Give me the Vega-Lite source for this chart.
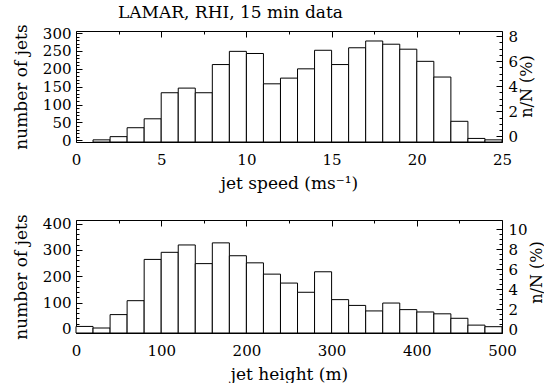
{
  "$schema": "https://vega.github.io/schema/vega-lite/v6.json",
  "background": "white",
  "padding": {"left": 11, "top": 3, "right": 0, "bottom": 0},
  "spacing": 21,
  "config": {
    "view": {"stroke": "black", "strokeWidth": 1},
    "axis": {
      "domain": false, "grid": false, "tickColor": "black", "tickWidth": 1,
      "labelColor": "black", "titleColor": "black",
      "labelFont": "DejaVu Serif", "titleFont": "DejaVu Serif",
      "labelFontSize": 15, "titleFontSize": 17, "titleFontWeight": "normal",
      "labelOverlap": false, "labelFlush": false
    }
  },
  "vconcat": [
    {
      "width": 426, "height": 111,
      "title": {"text": "LAMAR, RHI, 15 min data", "anchor": "start", "frame": "group", "dx": 42, "offset": 2, "font": "DejaVu Serif", "fontSize": 17, "fontWeight": "normal", "color": "black"},
      "data": {"values": [
        {"lo": 1, "hi": 2, "count": 1},
        {"lo": 2, "hi": 3, "count": 10},
        {"lo": 3, "hi": 4, "count": 35},
        {"lo": 4, "hi": 5, "count": 60},
        {"lo": 5, "hi": 6, "count": 133},
        {"lo": 6, "hi": 7, "count": 146},
        {"lo": 7, "hi": 8, "count": 133},
        {"lo": 8, "hi": 9, "count": 212},
        {"lo": 9, "hi": 10, "count": 249},
        {"lo": 10, "hi": 11, "count": 243},
        {"lo": 11, "hi": 12, "count": 158},
        {"lo": 12, "hi": 13, "count": 174},
        {"lo": 13, "hi": 14, "count": 200},
        {"lo": 14, "hi": 15, "count": 252},
        {"lo": 15, "hi": 16, "count": 212},
        {"lo": 16, "hi": 17, "count": 259},
        {"lo": 17, "hi": 18, "count": 278},
        {"lo": 18, "hi": 19, "count": 269},
        {"lo": 19, "hi": 20, "count": 255},
        {"lo": 20, "hi": 21, "count": 221},
        {"lo": 21, "hi": 22, "count": 177},
        {"lo": 22, "hi": 23, "count": 53},
        {"lo": 23, "hi": 24, "count": 5},
        {"lo": 24, "hi": 25, "count": 1}
      ]},
      "layer": [
        {
          "mark": {"type": "bar", "fill": "white", "stroke": "black", "strokeWidth": 1},
          "encoding": {
            "x": {"field": "lo", "type": "quantitative", "scale": {"domain": [0, 25], "nice": false, "zero": false},
              "axis": {"orient": "bottom", "title": "jet speed (ms⁻¹)", "values": [0, 2.5, 5, 7.5, 10, 12.5, 15, 17.5, 20, 22.5, 25],
                "labelExpr": "datum.value % 5 === 0 ? datum.label : ''",
                "tickSize": {"condition": {"test": "datum.value % 5 === 0", "value": -6}, "value": -3},
                "labelPadding": 16, "titlePadding": 5}},
            "x2": {"field": "hi"},
            "y": {"field": "count", "type": "quantitative", "scale": {"domain": [-5, 306], "nice": false, "zero": false},
              "axis": {"orient": "left", "title": "number of jets",
                "values": [0, 10, 20, 30, 40, 50, 60, 70, 80, 90, 100, 110, 120, 130, 140, 150, 160, 170, 180, 190, 200, 210, 220, 230, 240, 250, 260, 270, 280, 290, 300],
                "labelExpr": "datum.value % 50 === 0 ? datum.label : ''",
                "tickSize": {"condition": {"test": "datum.value % 50 === 0", "value": -6}, "value": -3},
                "labelPadding": 11, "titlePadding": 12}},
            "y2": {"datum": -5}
          }
        },
        {
          "mark": {"type": "rule", "opacity": 0},
          "encoding": {
            "y": {"datum": 0, "type": "quantitative", "scale": {"domain": [-0.45, 8.4], "nice": false, "zero": false},
              "axis": {"orient": "right", "title": "n/N (%)", "titleAngle": -90, "titleBaseline": "middle", "titleAlign": "center", "titleFontSize": 16,
                "titleX": 24, "titleY": 55,
                "values": [0, 0.5, 1, 1.5, 2, 2.5, 3, 3.5, 4, 4.5, 5, 5.5, 6, 6.5, 7, 7.5, 8],
                "labelExpr": "datum.value % 2 === 0 ? format(datum.value, 'd') : ''",
                "tickSize": {"condition": {"test": "datum.value % 2 === 0", "value": -6}, "value": -3},
                "labelPadding": 12}}
          }
        },
        {
          "mark": {"type": "rule", "opacity": 0},
          "encoding": {
            "x": {"datum": 0, "type": "quantitative", "scale": {"domain": [0, 25], "nice": false, "zero": false},
              "axis": {"orient": "top", "title": null, "labels": false,
                "values": [0, 2.5, 5, 7.5, 10, 12.5, 15, 17.5, 20, 22.5, 25],
                "tickSize": {"condition": {"test": "datum.value % 5 === 0", "value": -6}, "value": -3}}}
          }
        }
      ],
      "resolve": {"scale": {"x": "independent", "y": "independent"}}
    },
    {
      "width": 426, "height": 113,
      "data": {"values": [
        {"lo": 0, "hi": 20, "count": 9},
        {"lo": 20, "hi": 40, "count": 3},
        {"lo": 40, "hi": 60, "count": 54},
        {"lo": 60, "hi": 80, "count": 107},
        {"lo": 80, "hi": 100, "count": 264},
        {"lo": 100, "hi": 120, "count": 291},
        {"lo": 120, "hi": 140, "count": 319},
        {"lo": 140, "hi": 160, "count": 248},
        {"lo": 160, "hi": 180, "count": 327},
        {"lo": 180, "hi": 200, "count": 278},
        {"lo": 200, "hi": 220, "count": 251},
        {"lo": 220, "hi": 240, "count": 208},
        {"lo": 240, "hi": 260, "count": 174},
        {"lo": 260, "hi": 280, "count": 139},
        {"lo": 280, "hi": 300, "count": 217},
        {"lo": 300, "hi": 320, "count": 111},
        {"lo": 320, "hi": 340, "count": 89},
        {"lo": 340, "hi": 360, "count": 68},
        {"lo": 360, "hi": 380, "count": 98},
        {"lo": 380, "hi": 400, "count": 73},
        {"lo": 400, "hi": 420, "count": 64},
        {"lo": 420, "hi": 440, "count": 57},
        {"lo": 440, "hi": 460, "count": 40},
        {"lo": 460, "hi": 480, "count": 14},
        {"lo": 480, "hi": 500, "count": 8}
      ]},
      "layer": [
        {
          "mark": {"type": "bar", "fill": "white", "stroke": "black", "strokeWidth": 1},
          "encoding": {
            "x": {"field": "lo", "type": "quantitative", "scale": {"domain": [0, 500], "nice": false, "zero": false},
              "axis": {"orient": "bottom", "title": "jet height (m)", "values": [0, 50, 100, 150, 200, 250, 300, 350, 400, 450, 500],
                "labelExpr": "datum.value % 100 === 0 ? datum.label : ''",
                "tickSize": {"condition": {"test": "datum.value % 100 === 0", "value": -6}, "value": -3},
                "labelPadding": 16, "titlePadding": 5}},
            "x2": {"field": "hi"},
            "y": {"field": "count", "type": "quantitative", "scale": {"domain": [-16, 414], "nice": false, "zero": false},
              "axis": {"orient": "left", "title": "number of jets",
                "values": [0, 20, 40, 60, 80, 100, 120, 140, 160, 180, 200, 220, 240, 260, 280, 300, 320, 340, 360, 380, 400],
                "labelExpr": "datum.value % 100 === 0 ? datum.label : ''",
                "tickSize": {"condition": {"test": "datum.value % 100 === 0", "value": -6}, "value": -3},
                "labelPadding": 11, "titlePadding": 12}},
            "y2": {"datum": -16}
          }
        },
        {
          "mark": {"type": "rule", "opacity": 0},
          "encoding": {
            "y": {"datum": 0, "type": "quantitative", "scale": {"domain": [-0.4, 10.9], "nice": false, "zero": false},
              "axis": {"orient": "right", "title": "n/N (%)", "titleAngle": -90, "titleBaseline": "middle", "titleAlign": "center", "titleFontSize": 16,
                "titleX": 34, "titleY": 52,
                "values": [0, 0.5, 1, 1.5, 2, 2.5, 3, 3.5, 4, 4.5, 5, 5.5, 6, 6.5, 7, 7.5, 8, 8.5, 9, 9.5, 10],
                "labelExpr": "datum.value % 2 === 0 ? format(datum.value, 'd') : ''",
                "tickSize": {"condition": {"test": "datum.value % 2 === 0", "value": -6}, "value": -3},
                "labelPadding": 12}}
          }
        },
        {
          "mark": {"type": "rule", "opacity": 0},
          "encoding": {
            "x": {"datum": 0, "type": "quantitative", "scale": {"domain": [0, 500], "nice": false, "zero": false},
              "axis": {"orient": "top", "title": null, "labels": false,
                "values": [0, 50, 100, 150, 200, 250, 300, 350, 400, 450, 500],
                "tickSize": {"condition": {"test": "datum.value % 100 === 0", "value": -6}, "value": -3}}}
          }
        }
      ],
      "resolve": {"scale": {"x": "independent", "y": "independent"}}
    }
  ]
}
